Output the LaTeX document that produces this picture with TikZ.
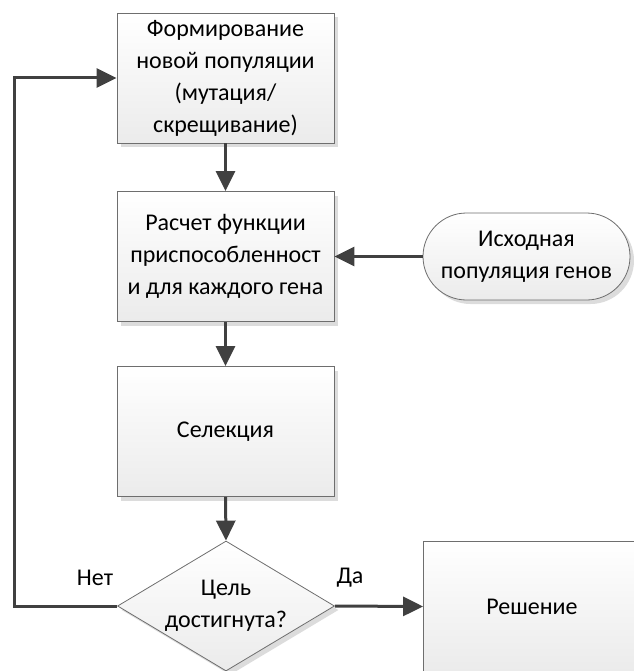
\documentclass[tikz,border=0pt]{standalone}
\usepackage{fontspec}
\setmainfont{Carlito}
\usetikzlibrary{shapes.geometric,shapes.misc,arrows.meta,shadows}
\definecolor{edgec}{HTML}{404040}
\definecolor{framec}{HTML}{6E6E6E}
\definecolor{shadec}{HTML}{EBEBEB}
\definecolor{shadowc}{HTML}{DCDCDC}
\begin{document}
\begin{tikzpicture}[x=1pt,y=-1pt,
  txt/.style={font=\fontsize{24}{32}\selectfont, align=center, text=black},
  shadowed/.style={drop shadow={shadow xshift=4pt, shadow yshift=-4pt, fill=shadowc, opacity=1}},
  procbox/.style={txt, draw=framec, line width=0.8pt, top color=white, bottom color=shadec,
    minimum width=217pt, minimum height=130pt, inner sep=0pt, shadowed},
  termbox/.style={txt, rounded rectangle, draw=framec, line width=0.8pt, top color=white, bottom color=shadec,
    minimum width=207pt, minimum height=87pt, inner sep=0pt, shadowed},
  decision/.style={diamond, shape aspect=1.67, draw=framec, line width=0.8pt, top color=white, bottom color=shadec,
    minimum width=217pt, minimum height=130pt, inner sep=0pt, shadowed},
  flow/.style={draw=edgec, line width=3pt, -{Triangle[length=20pt,width=19pt]}},
  lbl/.style={txt, inner sep=0pt}
]
\useasboundingbox (0,0) rectangle (633,671);
\node[procbox] (b1) at (225.5,78) {Формирование\\новой популяции\\(мутация/\\скрещивание)};
\node[procbox] (b2) at (225.5,256.5) {Расчет функции\\приспособленност\\и для каждого гена};
\node[procbox] (b3) at (225.5,431.5) {Селекция};
\node[decision] (d) at (226,606) {};
\node[txt] (dt) at (d) {Цель\\достигнута?};
\node[termbox] (src) at (526.5,256.5) {Исходная\\популяция генов};
\node[procbox] (sol) at (532,606.5) {Решение};
\node[lbl] (no) at (95,578) {Нет};
\node[lbl] (yes) at (350,578) {Да};
\coordinate (c1) at (14,606);
\coordinate (c2) at (14,78);
\draw[flow] (b1.south) -- (b2.north);
\draw[flow] (b2.south) -- (b3.north);
\draw[flow] (b3.south) -- (d.north);
\draw[flow] (src.west) -- (b2.east);
\draw[flow] (d.east) -- (sol.west);
\draw[flow] (d.west) -- (c1) -- (c2) -- (b1.west);
\end{tikzpicture}
\end{document}
